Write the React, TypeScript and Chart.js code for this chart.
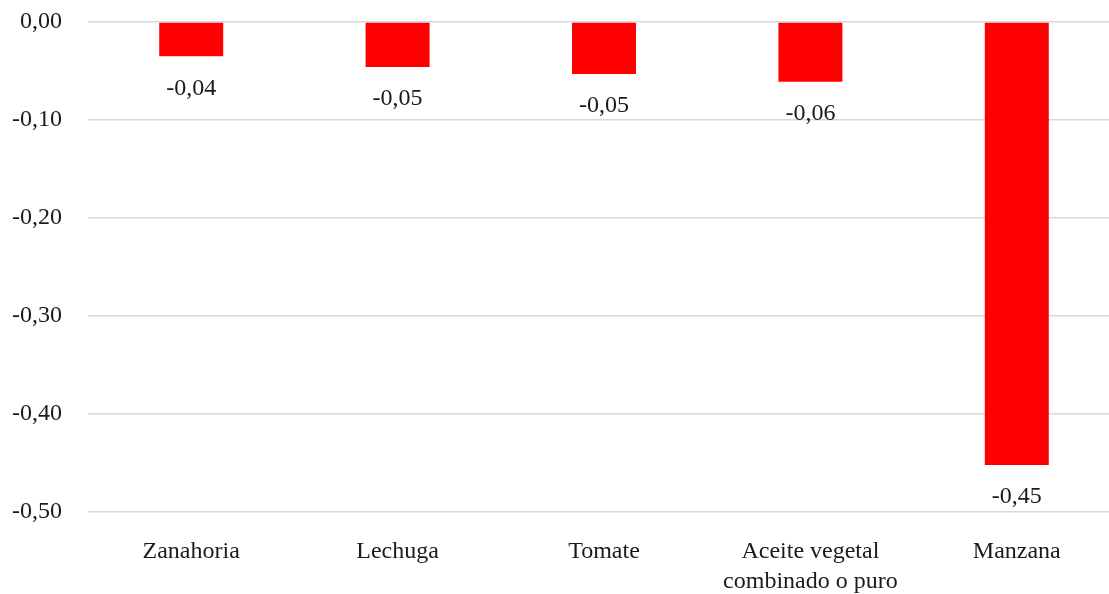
import React, { useEffect, useRef } from "react";
import { Chart, registerables } from "chart.js";

Chart.register(...registerables);

const categories: (string | string[])[] = [
  "Zanahoria",
  "Lechuga",
  "Tomate",
  ["Aceite vegetal", "combinado o puro"],
  "Manzana",
];
const values = [-0.035, -0.046, -0.053, -0.061, -0.452];
const yTicks = [0, -0.1, -0.2, -0.3, -0.4, -0.5];

const FONT = "'Liberation Serif', 'Times New Roman', serif";

const fmt = (v: number) => v.toFixed(2).replace(".", ",");

const labelPlugin = {
  id: "barLabels",
  afterDatasetsDraw(chart: any) {
    const ctx = chart.ctx;
    const meta = chart.getDatasetMeta(0);
    ctx.save();
    ctx.font = `24px ${FONT}`;
    ctx.fillStyle = "#1a1a1a";
    ctx.textAlign = "center";
    ctx.textBaseline = "middle";
    meta.data.forEach((el: any, i: number) => {
      ctx.fillText(fmt(values[i]), el.x, el.y + 32);
    });
    ctx.restore();
  },
};

export default function App() {
  const ref = useRef<HTMLCanvasElement>(null);
  useEffect(() => {
    if (!ref.current) return;
    const chart = new Chart(ref.current, {
      type: "bar",
      data: {
        labels: categories as any,
        datasets: [
          {
            data: values,
            backgroundColor: "#ff0000",
            borderWidth: 0,
            categoryPercentage: 1,
            barPercentage: 0.31,
          },
        ],
      },
      options: {
        animation: false,
        responsive: false,
        maintainAspectRatio: false,
        layout: { padding: { top: 22, right: 0, bottom: 0, left: 0 } },
        plugins: {
          legend: { display: false },
          tooltip: { enabled: false },
          title: { display: false },
        },
        scales: {
          x: {
            grid: { display: false },
            border: { display: false },
            afterFit: (s: any) => {
              s.height = 82;
              s.paddingLeft = 0;
              s.paddingRight = 0;
            },
            ticks: {
              color: "#1a1a1a",
              font: { family: FONT, size: 24, lineHeight: 1.25 },
              padding: 17,
              maxRotation: 0,
              autoSkip: false,
            },
          },
          y: {
            min: -0.5,
            max: 0,
            afterBuildTicks: (axis: any) => {
              axis.ticks = yTicks.map((v) => ({ value: v }));
            },
            afterFit: (s: any) => {
              s.width = 88;
              s.paddingTop = 0;
              s.paddingBottom = 0;
            },
            grid: { color: "#d9d9d9", lineWidth: 1.5, drawTicks: false },
            border: { display: false },
            ticks: {
              color: "#1a1a1a",
              font: { family: FONT, size: 24 },
              padding: 26,
              callback: (v: any) => fmt(Number(v)),
            },
          },
        },
      },
      plugins: [labelPlugin],
    });
    return () => chart.destroy();
  }, []);
  return (
    <div style={{ position: "fixed", left: 0, top: 0, width: 1109, height: 594, overflow: "hidden", background: "#fff" }}>
      <canvas ref={ref} width={1120} height={594} style={{ width: 1120, height: 594, display: "block" }} />
    </div>
  );
}
